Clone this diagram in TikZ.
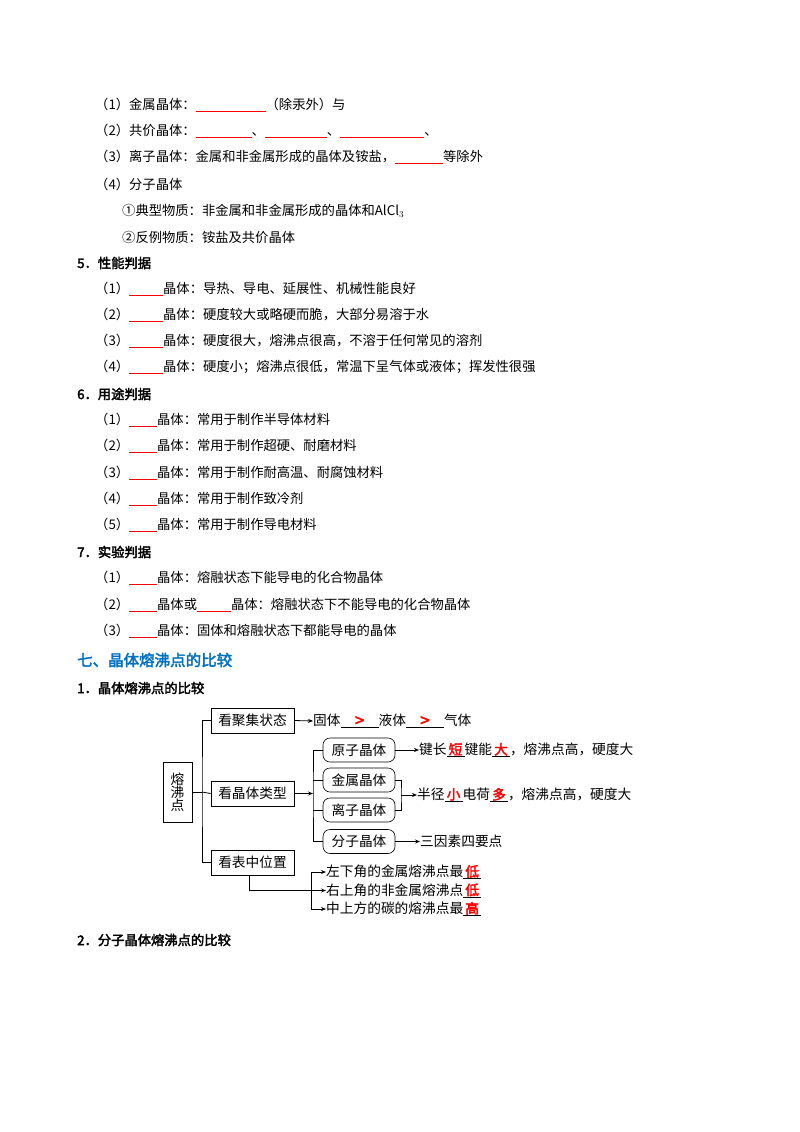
\documentclass[tikz,border=0pt]{standalone}
\usepackage{fontspec}
\setmainfont{Noto Sans CJK SC}[AutoFakeBold=2.5]
\usetikzlibrary{arrows.meta}
\newcommand{\bl}[1]{{\color{red}\rule[-2.5pt]{#1pt}{0.8pt}}}
\newcommand{\ans}[2]{\makebox[0pt][l]{\rule[-2.5pt]{#1pt}{0.6pt}}\makebox[#1pt]{\color{red}\bfseries #2}}
\newcommand{\gt}{\raisebox{-1pt}{\fontsize{17}{17}\selectfont\bfseries >}}
\begin{document}
\begin{tikzpicture}[x=1pt,y=-1pt,
  tx/.style={anchor=west,inner sep=0pt,font=\fontsize{13.3}{15}\selectfont},
  hd/.style={anchor=west,inner sep=0pt,font=\fontsize{13.3}{15}\selectfont\bfseries},
  dt/.style={anchor=west,inner sep=0pt,font=\fontsize{13.7}{15}\selectfont},
  bx/.style={draw,line width=0.8pt,inner sep=2pt,font=\fontsize{13.7}{15}\selectfont,minimum height=25pt,minimum width=83pt},
  rb/.style={draw,line width=0.6pt,rounded corners=7pt,font=\fontsize{13.7}{15}\selectfont,minimum height=24pt,minimum width=72pt,inner sep=1pt},
  ln/.style={line width=0.8pt},
  ar/.style={line width=0.8pt,-{Stealth[length=5pt,width=4pt]}}]
\useasboundingbox[fill=white] (0,0) rectangle (800,1132);
\node[tx] (l1) at (95,105) {（1）金属晶体：\bl{70}（除汞外）与};
\node[tx] (l2) at (95,131) {（2）共价晶体：\bl{56}、\bl{62}、\bl{84}、};
\node[tx] (l3) at (95,157) {（3）离子晶体：金属和非金属形成的晶体及铵盐，\bl{48}等除外};
\node[tx] (l4) at (95,184) {（4）分子晶体};
\node[tx] (l5) at (122,211) {①典型物质：非金属和非金属形成的晶体和AlCl$_3$};
\node[tx] (l6) at (122,237) {②反例物质：铵盐及共价晶体};
\node[hd] (h5) at (77,263) {5．性能判据};
\node[tx] (a1) at (95,289) {（1）\bl{34}晶体：导热、导电、延展性、机械性能良好};
\node[tx] (a2) at (95,315) {（2）\bl{34}晶体：硬度较大或略硬而脆，大部分易溶于水};
\node[tx] (a3) at (95,341) {（3）\bl{34}晶体：硬度很大，熔沸点很高，不溶于任何常见的溶剂};
\node[tx] (a4) at (95,367) {（4）\bl{34}晶体：硬度小；熔沸点很低，常温下呈气体或液体；挥发性很强};
\node[hd] (h6) at (77,394) {6．用途判据};
\node[tx] (b1) at (95,420) {（1）\bl{28}晶体：常用于制作半导体材料};
\node[tx] (b2) at (95,446) {（2）\bl{28}晶体：常用于制作超硬、耐磨材料};
\node[tx] (b3) at (95,473) {（3）\bl{28}晶体：常用于制作耐高温、耐腐蚀材料};
\node[tx] (b4) at (95,499) {（4）\bl{28}晶体：常用于制作致冷剂};
\node[tx] (b5) at (95,525) {（5）\bl{28}晶体：常用于制作导电材料};
\node[hd] (h7) at (77,552) {7．实验判据};
\node[tx] (c1) at (95,578) {（1）\bl{28}晶体：熔融状态下能导电的化合物晶体};
\node[tx] (c2) at (95,605) {（2）\bl{28}晶体或\bl{34}晶体：熔融状态下不能导电的化合物晶体};
\node[tx] (c3) at (95,631) {（3）\bl{28}晶体：固体和熔融状态下都能导电的晶体};
\node[anchor=west,inner sep=0pt,font=\fontsize{15.5}{17}\selectfont\bfseries,text={rgb,255:red,0;green,112;blue,192}] (h8) at (77,660) {七、晶体熔沸点的比较};
\node[hd] (h81) at (77,688) {1．晶体熔沸点的比较};
\node[hd] (h82) at (77,940) {2．分子晶体熔沸点的比较};
% diagram
\node[draw,line width=0.8pt,minimum width=29pt,minimum height=60pt,inner sep=0pt,align=center,font=\fontsize{13.7}{15}\selectfont] (root) at (177.5,792) {熔\\[-2pt]沸\\[-2pt]点};
\node[bx] (k1) at (252.5,720.5) {看聚集状态};
\node[bx] (k2) at (252.5,793.5) {看晶体类型};
\node[bx] (k3) at (252.5,862.5) {看表中位置};
\coordinate (tr) at (202,792);
\draw[ln] (root.east) -- (tr);
\draw[ln] (k1.west) -| (202,792) |- (k3.west);
\draw[ln] (tr) -- (k2.west);
\node[dt] (s1) at (313,721) {固体\ans{38}{\gt}液体\ans{38}{\gt}气体};
\draw[ar] (k1.east) -- (s1.west);
\node[rb] (y1) at (359,750) {原子晶体};
\node[rb] (y2) at (359,780) {金属晶体};
\node[rb] (y3) at (359,810) {离子晶体};
\node[rb] (y4) at (359,841.5) {分子晶体};
\coordinate (br) at (313,793.5);
\draw[ar] (k2.east) -- (br);
\draw[ln] (y1.west) -| (313,793.5) |- (y4.west);
\draw[ln] (y2.west) -- ++(-10,0);
\draw[ln] (y3.west) -- ++(-10,0);
\node[dt] (t1) at (419,750) {键长\ans{18}{短}键能\ans{18}{大}，熔沸点高，硬度大};
\draw[ar] (y1.east) -- (t1.west);
\coordinate (mb) at (401,795);
\draw[ln] (y2.east) -| (mb) |- (y3.east);
\node[dt] (t2) at (417,795) {半径\ans{18}{小}电荷\ans{18}{多}，熔沸点高，硬度大};
\draw[ar] (mb) -- (t2.west);
\node[dt] (t4) at (420,841.5) {三因素四要点};
\draw[ar] (y4.east) -- (t4.west);
\node[dt] (p1) at (326,872) {左下角的金属熔沸点最\ans{18}{低}};
\node[dt] (p2) at (326,890.5) {右上角的非金属熔沸点\ans{18}{低}};
\node[dt] (p3) at (326,909) {中上方的碳的熔沸点最\ans{18}{高}};
\coordinate (pb) at (311,890.5);
\draw[ln] (k3.south) ++(-3,0) |- (pb);
\draw[ln] (311,872) -- (311,909);
\draw[ar] (311,872) -- (p1.west);
\draw[ar] (pb) -- (p2.west);
\draw[ar] (311,909) -- (p3.west);
\end{tikzpicture}
\end{document}
